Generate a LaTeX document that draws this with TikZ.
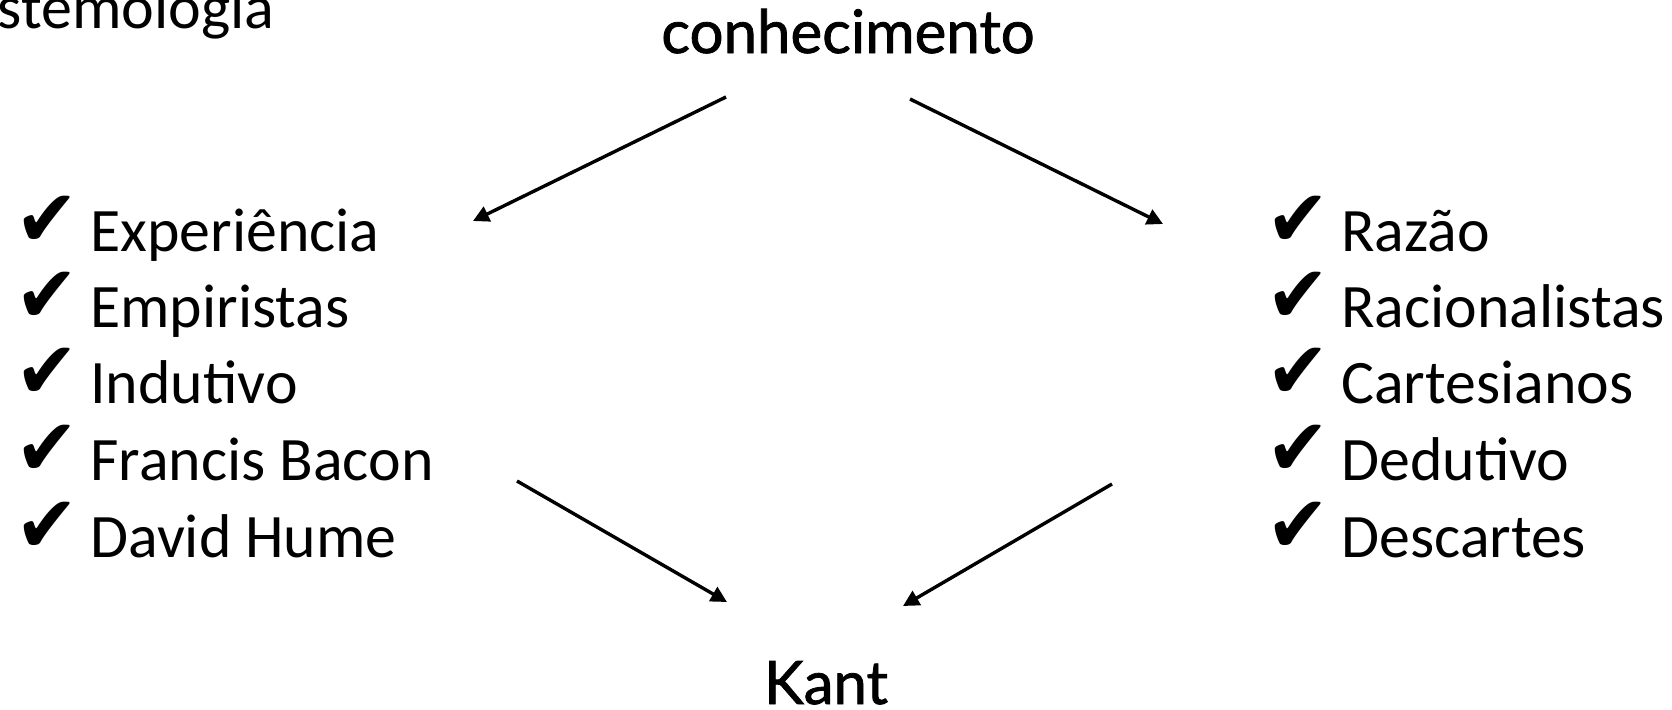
\documentclass[tikz,border=0pt]{standalone}
\usepackage{fontspec}
\setmainfont{Carlito}
\newfontfamily\headfont{Lato}[FakeBold=1.3]
\newfontfamily\symfont{DejaVu Sans}
\usetikzlibrary{arrows.meta}
\newcommand{\chk}{\makebox[34.5pt][l]{\hspace*{-3pt}\raisebox{2.5pt}{\scalebox{0.9}[0.95]{\symfont\fontsize{42}{42}\selectfont ✔}}}}

\begin{document}
\begin{tikzpicture}[x=0.5pt,y=-0.5pt,
    item/.style={anchor=base west,inner sep=0,font=\fontsize{30.9}{36}\selectfont},
    head/.style={anchor=base,inner sep=0,font=\headfont\fontsize{30}{36}\selectfont},
    link/.style={-{Triangle[length=8pt,width=8pt]},line width=1.7pt},
  ]
  \useasboundingbox (0,0) rectangle (1672,709);
  \clip (0,0) rectangle (1672,709);
  \node[anchor=base east,inner sep=0,font=\fontsize{31}{36}\selectfont] (titulo) at (275,28) {stemologia};
  \node[head] (conhecimento) at (848,53) {conhecimento};
  \node[head] (Kant) at (826,704) {Kant};
  % empiristas
  \node[item] (Experiencia) at (21,251) {\chk Experiência};
  \node[item] (Empiristas) at (21,327) {\chk Empiristas};
  \node[item] (Indutivo) at (21,403) {\chk Indutivo};
  \node[item] (Bacon) at (21,480) {\chk Francis Bacon};
  \node[item] (Hume) at (21,557) {\chk David Hume};
  % racionalistas
  \node[item] (Razao) at (1272,251) {\chk Razão};
  \node[item] (Racionalistas) at (1272,327) {\chk Racionalistas};
  \node[item] (Cartesianos) at (1272,403) {\chk Cartesianos};
  \node[item] (Dedutivo) at (1272,480) {\chk Dedutivo};
  \node[item] (Descartes) at (1272,557) {\chk Descartes};
  % arrow ends
  \coordinate (conh-l) at (726,97);
  \coordinate (conh-r) at (910,99);
  \coordinate (emp-in) at (473,221);
  \coordinate (rac-in) at (1163,224);
  \coordinate (emp-out) at (517,481);
  \coordinate (rac-out) at (1112,484);
  \coordinate (kant-l) at (727,602);
  \coordinate (kant-r) at (903,606);
  \draw[link] (conh-l) -- (emp-in);
  \draw[link] (conh-r) -- (rac-in);
  \draw[link] (emp-out) -- (kant-l);
  \draw[link] (rac-out) -- (kant-r);
\end{tikzpicture}
\end{document}
